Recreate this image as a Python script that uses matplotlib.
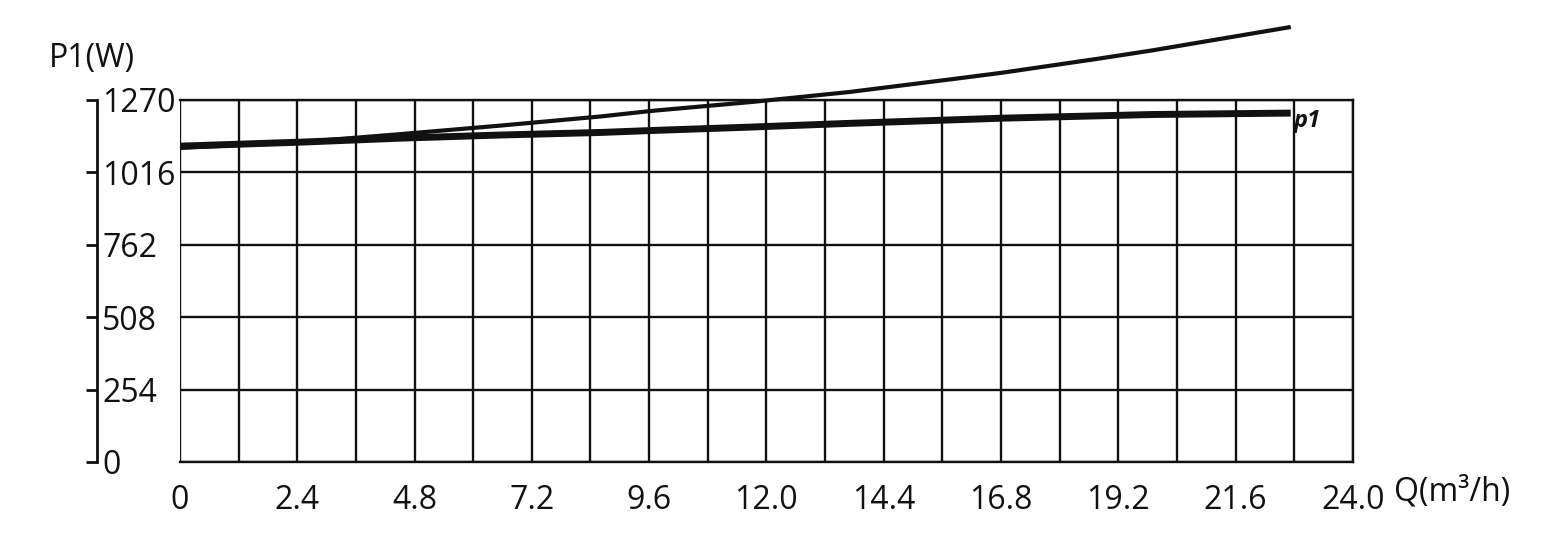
import numpy as np
from matplotlib import pyplot as plt
from matplotlib.ticker import MultipleLocator

plt.rcParams['font.family'] = ['Open Sans', 'DejaVu Sans']

# Daten
q_thin = [0, 2.46, 4.5, 6.55, 8.6, 9.67, 11.7, 13.7, 15.8, 16.8, 17.8, 18.8, 19.9, 20.9, 22.73]
p_thin = [1102, 1122, 1150, 1180, 1212, 1232, 1263, 1298, 1343, 1365, 1390, 1415, 1444, 1473, 1526]

q_p1 = [0, 2.46, 4.5, 6.55, 8.6, 9.67, 11.7, 13.7, 16.8, 19.9, 22.73]
p_p1 = [1108, 1122, 1136, 1147, 1156, 1163, 1175, 1188, 1206, 1219, 1224]

x_ticks = [0, 2.4, 4.8, 7.2, 9.6, 12.0, 14.4, 16.8, 19.2, 21.6, 24.0]
x_labels = ['0', '2.4', '4.8', '7.2', '9.6', '12.0', '14.4', '16.8', '19.2', '21.6', '24.0']
y_ticks = [0, 254, 508, 762, 1016, 1270]

ink = '#111111'

fig = plt.figure(figsize=(15.65, 5.49), dpi=100)
ax = fig.add_axes([0.115, 0.1585, 0.7494, 0.6594])

ax.plot(q_thin, p_thin, color=ink, lw=3, clip_on=False, solid_capstyle='butt', zorder=5)
ax.plot(q_p1, p_p1, color=ink, lw=5, solid_capstyle='butt', zorder=6)

ax.set_xlim(0, 24)
ax.set_ylim(0, 1270)

# Gitter
ax.set_xticks(x_ticks)
ax.set_xticklabels(x_labels)
ax.xaxis.set_minor_locator(MultipleLocator(1.2))
ax.set_yticks(y_ticks)
ax.grid(True, which='both', axis='x', color=ink, lw=1.7)
ax.grid(True, which='major', axis='y', color=ink, lw=1.7)
ax.set_axisbelow(True)

for s in ['top', 'right', 'bottom']:
    ax.spines[s].set_color(ink)
    ax.spines[s].set_linewidth(1.7)
ax.spines['left'].set_position(('outward', 60))
ax.spines['left'].set_color(ink)
ax.spines['left'].set_linewidth(2)

ax.tick_params(axis='x', which='both', length=0, pad=16, labelsize=23, colors=ink)
ax.tick_params(axis='y', direction='out', length=8, width=2, pad=-12, labelsize=23, colors=ink)
for lab in ax.get_yticklabels():
    lab.set_horizontalalignment('left')

# Beschriftungen
fig.text(0.031, 0.893, 'P1(W)', fontsize=23, color=ink, va='center')
ax.text(24.85, -47, 'Q(m³/h)', fontsize=23, color=ink, ha='left', va='top')
ax.text(22.8, 1195, 'p1', fontsize=17, fontstyle='italic', fontweight='bold', color=ink, ha='left', va='center')

plt.savefig('out.png', dpi=100)
